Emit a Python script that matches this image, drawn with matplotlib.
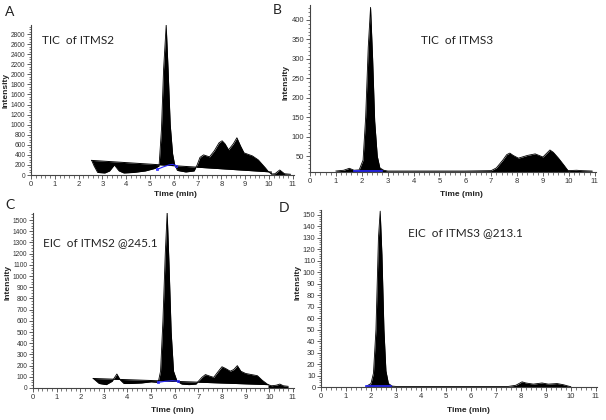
import numpy as np
import matplotlib.pyplot as plt
from matplotlib.ticker import MultipleLocator

plt.rcParams['font.family'] = ['Liberation Sans', 'DejaVu Sans']

# A: TIC of ITMS2
tA = [2.55, 2.65, 2.8, 3.1, 3.3, 3.5, 3.7, 3.9, 4.3, 4.8, 5.2, 5.38, 5.48, 5.57, 5.68,
      5.76, 5.85, 5.95, 6.03, 6.15, 6.5, 6.85, 6.98, 7.1, 7.25, 7.5, 7.7, 7.9, 8.03,
      8.15, 8.3, 8.5, 8.65, 8.8, 8.95, 9.3, 9.55, 9.7, 9.85, 9.97, 10.1]
yA = [290, 180, 50, 40, 80, 200, 80, 40, 50, 80, 130, 180, 900, 2100, 2980,
      2100, 1000, 420, 220, 90, 60, 80, 200, 350, 400, 360, 480, 640, 680,
      620, 500, 620, 740, 580, 440, 380, 300, 220, 140, 70, 20]
tA_tail = [10.1, 10.25, 10.45, 10.65, 10.9]
yA_tail = [20, 25, 100, 25, 15]
baseA_t = [2.55, 10.1]
baseA_y = [290, 60]
blueA_t = [5.3, 5.55, 5.8, 5.95, 6.1]
blueA_y = [110, 160, 200, 210, 185]

# B: TIC of ITMS3
tB = [1.0, 1.3, 1.52, 1.7, 1.9, 2.05, 2.15, 2.25, 2.34, 2.42, 2.5, 2.6, 2.7, 2.85,
      3.0, 4.0, 5.0, 6.0, 7.0, 7.2, 7.45, 7.6, 7.72, 7.85, 8.05, 8.2, 8.4, 8.7,
      9.0, 9.15, 9.27, 9.4, 9.6, 9.8, 9.97, 10.3, 10.5, 10.9]
yB = [12, 14, 19, 14, 15, 40, 150, 330, 432, 300, 140, 50, 20, 14,
      12, 12, 12, 12, 13, 20, 40, 54, 58, 52, 45, 48, 52, 56,
      48, 58, 66, 60, 45, 28, 13, 14, 13, 12]
blueB_t = [1.7, 2.8]
blueB_y = [12, 12]

# C: EIC of ITMS2 @245.1
tC = [2.55, 2.8, 3.1, 3.35, 3.55, 3.7, 3.85, 4.1, 4.6, 5.0, 5.3, 5.4, 5.5, 5.6,
      5.68, 5.76, 5.85, 5.95, 6.1, 6.3, 6.6, 6.9, 7.0, 7.15, 7.3, 7.5, 7.65, 7.85,
      8.0, 8.15, 8.35, 8.5, 8.65, 8.8, 9.0, 9.3, 9.5, 9.7, 9.95]
yC = [85, 40, 30, 60, 125, 70, 40, 40, 45, 55, 50, 150, 600, 1200,
      1570, 1100, 500, 150, 60, 35, 30, 35, 60, 95, 120, 105, 95, 150,
      190, 175, 150, 165, 200, 150, 130, 118, 110, 70, 30]
tC_tail = [9.95, 10.1, 10.3, 10.45, 10.6, 10.8]
yC_tail = [30, 20, 25, 35, 20, 15]
baseC_t = [2.55, 9.95]
baseC_y = [85, 30]
blueC_t = [5.3, 5.6, 5.9, 6.15]
blueC_y = [50, 60, 65, 60]

# D: EIC of ITMS3 @213.1
tD = [1.8, 2.0, 2.1, 2.2, 2.3, 2.37, 2.44, 2.52, 2.6, 2.7, 2.85, 3.0, 5.0, 7.5,
      7.8, 8.05, 8.2, 8.5, 8.85, 9.1, 9.45, 9.7, 9.9, 10.0]
yD = [0.5, 3, 12, 50, 130, 153, 115, 50, 14, 3, 0.8, 0.5, 0.5, 0.5,
      1.5, 4.5, 3.5, 2.5, 3.5, 2.5, 3.0, 2.0, 0.8, 0.3]
blueD_t = [1.8, 2.8]
blueD_y = [0.6, 0.6]

W, H = 606, 420


def box(l, t, r, b):
    return [l / W, 1 - b / H, (r - l) / W, (b - t) / H]


def setup(ax, ymin, ymax, major, minor, ysize=5.5):
    ax.set_xlim(0, 11.05)
    ax.set_ylim(ymin, ymax)
    for s in ['top', 'right']:
        ax.spines[s].set_visible(False)
    for s in ['left', 'bottom']:
        ax.spines[s].set_color('#444444')
        ax.spines[s].set_linewidth(0.8)
    ax.xaxis.set_major_locator(MultipleLocator(1))
    ax.xaxis.set_minor_locator(MultipleLocator(0.2))
    ax.yaxis.set_major_locator(MultipleLocator(major))
    ax.yaxis.set_minor_locator(MultipleLocator(minor))
    ax.tick_params(which='major', length=3, width=0.6, labelsize=5.5,
                   colors='#444444', labelcolor='#333333', pad=1.5)
    ax.tick_params(axis='y', which='major', labelsize=ysize, pad=1)
    ax.tick_params(which='minor', length=1.8, width=0.5, colors='#444444')


def chrom(ax, t, y, base_t=None, base_y=None, floor=0):
    t = np.array(t)
    y = np.array(y)
    if base_t is None:
        b = np.full_like(y, floor, dtype=float)
    else:
        b = np.interp(t, base_t, base_y)
        ax.plot(base_t, base_y, color='black', lw=0.7)
    ax.fill_between(t, y, b, color='black', lw=0, interpolate=True)
    ax.plot(t, y, color='black', lw=0.6)


fig = plt.figure(figsize=(6.06, 4.2), dpi=100)

axA = fig.add_axes(box(31, 25, 294, 175))
setup(axA, 0, 2980, 200, 50, ysize=4.8)
axA.set_yticks(np.arange(0, 2801, 200))
chrom(axA, tA, yA, baseA_t, baseA_y)
chrom(axA, tA_tail, yA_tail)
axA.plot(blueA_t, blueA_y, color='#2a2aff', lw=0.8)
axA.plot([blueA_t[0], blueA_t[-1]], [blueA_y[0], blueA_y[-1]], 's',
         ms=2, mfc='none', mec='#2a2aff', mew=0.6)

axB = fig.add_axes(box(310, 5, 596, 172))
setup(axB, 9.5, 438, 50, 10)
axB.set_yticks(np.arange(50, 401, 50))
chrom(axB, tB, yB, floor=9.5)
axB.plot(blueB_t, blueB_y, color='#2a2aff', lw=1.2)

axC = fig.add_axes(box(33, 213, 294, 388))
setup(axC, 0, 1563, 100, 25, ysize=4.8)
axC.set_yticks(np.arange(0, 1501, 100))
chrom(axC, tC, yC, baseC_t, baseC_y)
chrom(axC, tC_tail, yC_tail)
axC.plot(blueC_t, blueC_y, color='#2a2aff', lw=0.8)
axC.plot([blueC_t[0], blueC_t[-1]], [blueC_y[0], blueC_y[-1]], 's',
         ms=2, mfc='none', mec='#2a2aff', mew=0.6)

axD = fig.add_axes(box(321, 210, 597, 387))
setup(axD, 0, 154, 10, 2)
axD.set_yticks(np.arange(0, 151, 10))
chrom(axD, tD, yD)
axD.plot(blueD_t, blueD_y, color='#2a2aff', lw=1.2)


def txt(x, y, s, **kw):
    fig.text(x / W, 1 - y / H, s, **kw)


lab = dict(fontsize=6, fontweight='bold', color='#222222', ha='center', va='center')
txt(6, 90, 'Intensity', rotation=90, **lab)
txt(286, 83, 'Intensity', rotation=90, **lab)
txt(8, 283, 'Intensity', rotation=90, **lab)
txt(298, 283, 'Intensity', rotation=90, **lab)
txt(175, 194, 'Time (min)', **lab)
txt(461, 194, 'Time (min)', **lab)
txt(172, 410, 'Time (min)', **lab)
txt(468, 411, 'Time (min)', **lab)

ttl = dict(fontsize=8.5, family=['Lato', 'DejaVu Sans'], color='#222222', va='center')
txt(42, 40, 'TIC  of ITMS2', **ttl)
txt(421, 40, 'TIC  of ITMS3', **ttl)
txt(43, 243, 'EIC  of ITMS2 @245.1', **ttl)
txt(408, 233, 'EIC  of ITMS3 @213.1', **ttl)

let = dict(fontsize=10, family=['Lato', 'DejaVu Sans'], color='#222222',
           ha='center', va='center')
txt(10, 12, 'A', **let)
txt(277, 10, 'B', **let)
txt(10, 205, 'C', **let)
txt(284, 208, 'D', **let)

fig.savefig('out.png', dpi=100)
